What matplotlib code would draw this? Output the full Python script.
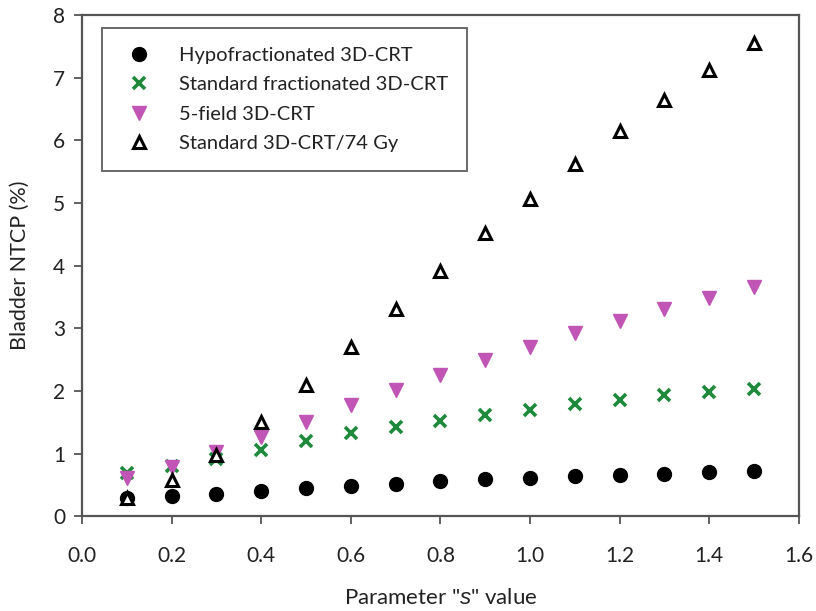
import matplotlib
matplotlib.use("Agg")
import matplotlib.pyplot as plt

plt.rcParams['font.family'] = ['Lato', 'DejaVu Sans']
plt.rcParams['mathtext.fontset'] = 'custom'
plt.rcParams['mathtext.rm'] = 'Lato'
plt.rcParams['mathtext.it'] = 'Liberation Sans:italic'

# parameter s and bladder NTCP (%) for each plan
s_values = [0.1, 0.2, 0.3, 0.4, 0.5, 0.6, 0.7, 0.8, 0.9, 1.0, 1.1, 1.2, 1.3, 1.4, 1.5]
hypo = [0.29, 0.33, 0.36, 0.41, 0.46, 0.49, 0.52, 0.56, 0.59, 0.62, 0.64, 0.66, 0.68, 0.71, 0.73]
std_frac = [0.69, 0.80, 0.92, 1.06, 1.20, 1.33, 1.42, 1.53, 1.62, 1.70, 1.79, 1.86, 1.93, 1.98, 2.04]
five_field = [0.61, 0.79, 1.03, 1.27, 1.51, 1.78, 2.02, 2.26, 2.49, 2.70, 2.92, 3.12, 3.31, 3.49, 3.66]
std_74gy = [0.30, 0.58, 0.98, 1.50, 2.09, 2.70, 3.31, 3.92, 4.52, 5.06, 5.63, 6.15, 6.65, 7.12, 7.56]

labels = ["Hypofractionated 3D-CRT", "Standard fractionated 3D-CRT",
          "5-field 3D-CRT", "Standard 3D-CRT/74 Gy"]

fig = plt.figure(figsize=(8.16, 6.11), dpi=100)
ax = fig.add_axes([0.1005, 0.1547, 0.8785, 0.8208])

ax.plot(s_values, hypo, 'o', color='black', markersize=10, label=labels[0])
ax.plot(s_values, std_frac, 'x', color='#1f8a3c', markersize=9, markeredgewidth=2.6, label=labels[1])
ax.plot(s_values, five_field, 'v', color='#c055b5', markersize=10, label=labels[2])
ax.plot(s_values, std_74gy, '^', markerfacecolor='white', markeredgecolor='black',
        markersize=9, markeredgewidth=2.2, label=labels[3])

ax.set_xlim(0, 1.6)
ax.set_ylim(0, 8)
ax.set_xticks([0.0, 0.2, 0.4, 0.6, 0.8, 1.0, 1.2, 1.4, 1.6])
ax.set_xticklabels(['0.0', '0.2', '0.4', '0.6', '0.8', '1.0', '1.2', '1.4', '1.6'])
ax.set_yticks(range(9))

for sp in ax.spines.values():
    sp.set_color('#555555')
    sp.set_linewidth(1.6)
ax.tick_params(axis='both', direction='out', length=6, width=1.3, color='#555555',
               labelsize=15, labelcolor='#222222')
ax.tick_params(axis='x', pad=15)
ax.tick_params(axis='y', pad=6)

ax.set_xlabel('Parameter "$\\mathit{s}$" value', fontsize=16, color='#222222', labelpad=16)
ax.set_ylabel('Bladder NTCP (%)', fontsize=15.5, color='#222222', labelpad=17)

leg = ax.legend(loc='upper left', bbox_to_anchor=(0.028, 0.974), fontsize=14.5,
                frameon=True, fancybox=False, edgecolor='#444444',
                borderpad=0.95, labelspacing=0.6, handletextpad=1.05,
                handlelength=1.8, borderaxespad=0)
leg.get_frame().set_linewidth(1.4)
for t in leg.get_texts():
    t.set_color('#222222')

fig.savefig('out.png', dpi=100)
